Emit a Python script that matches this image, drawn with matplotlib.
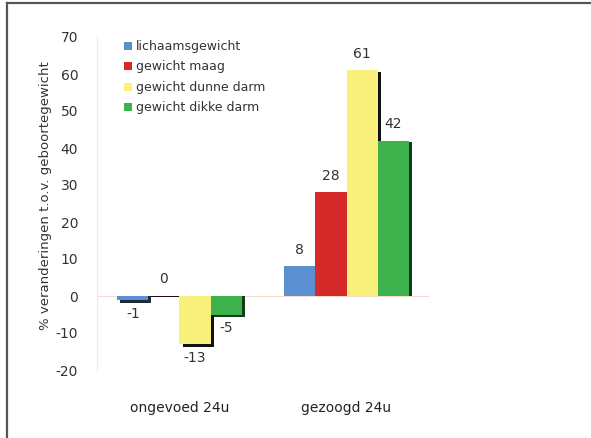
import matplotlib
matplotlib.use("Agg")
import matplotlib.pyplot as plt
from matplotlib.lines import Line2D
from matplotlib.patches import Patch
import numpy as np

groups = ["ongevoed 24u", "gezoogd 24u"]
series = ["lichaamsgewicht", "gewicht maag", "gewicht dunne darm", "gewicht dikke darm"]
values = {
    "lichaamsgewicht": [-1, 8],
    "gewicht maag": [0, 28],
    "gewicht dunne darm": [-13, 61],
    "gewicht dikke darm": [-5, 42],
}
colors = ["#5b8fd1", "#d42a2a", "#f8f27c", "#3db24c"]
shadow_colors = ["#1d2a3a", "#2a0a0a", "#111111", "#153d1a"]
yticks = [-20, -10, 0, 10, 20, 30, 40, 50, 60, 70]

fig = plt.figure(figsize=(5.91, 4.38), dpi=100)
ax = fig.add_axes([97 / 591, 1 - 370 / 438, 332 / 591, 333 / 438])

x = np.arange(len(groups))
w = 0.186
txt = "#333333"

for i, (name, col, scol) in enumerate(zip(series, colors, shadow_colors)):
    vals = np.array(values[name], dtype=float)
    pos = x + (i - 1.5) * w
    # drop shadow: shifted right, extended away from zero on the negative side
    sh = np.where(vals < 0, vals - 0.8, vals - 0.4)
    ax.bar(pos + 0.018, sh, width=w, color=scol, zorder=2, linewidth=0)
    ax.bar(pos, vals, width=w, color=col, zorder=3 + i * 0.01, linewidth=0)
    for p, v in zip(pos, vals):
        if v >= 0:
            ax.annotate(f"{v:g}", (p, v), xytext=(0, 7), textcoords="offset points",
                        ha="center", va="bottom", fontsize=10, color=txt, zorder=5)
        else:
            ax.annotate(f"{v:g}", (p, v), xytext=(0, -5), textcoords="offset points",
                        ha="center", va="top", fontsize=10, color=txt, zorder=5)

ax.axhline(0, color="#f3dcd2", lw=0.8, zorder=1)
ax.set_xlim(-0.494, 1.494)
ax.set_ylim(-20, 70)
ax.set_yticks(yticks)
ax.set_yticklabels([str(t) for t in yticks], fontsize=10, color=txt)
ax.set_xticks(x)
ax.set_xticklabels(groups, fontsize=10, color="#222222")
ax.tick_params(axis="y", length=0, pad=13.5)
ax.tick_params(axis="x", length=0, pad=22)
for s in ["top", "right", "bottom"]:
    ax.spines[s].set_visible(False)
ax.spines["left"].set_color("#ececec")
ax.spines["left"].set_linewidth(0.8)
ax.set_ylabel("% veranderingen t.o.v. geboortegewicht", fontsize=9.5, color=txt)
ax.yaxis.set_label_coords(-45 / 332, 0.525)

handles = [Patch(facecolor=c, edgecolor="none") for c in colors]
leg = ax.legend(handles, series, loc="upper left", bbox_to_anchor=(22 / 332, 1 + 2 / 333),
                frameon=False, fontsize=9, handlelength=0.6, handleheight=0.6,
                handletextpad=0.35, labelspacing=0.6, borderaxespad=0)
for t in leg.get_texts():
    t.set_color(txt)

# outer frame edges
fig.add_artist(Line2D([6.5 / 591, 1.0], [1 - 3 / 438, 1 - 3 / 438], color="#555555", lw=1.6,
                      transform=fig.transFigure))
fig.add_artist(Line2D([6.5 / 591, 6.5 / 591], [0, 1 - 3 / 438], color="#555555", lw=1.6,
                      transform=fig.transFigure))

fig.savefig("out.png", dpi=100)
